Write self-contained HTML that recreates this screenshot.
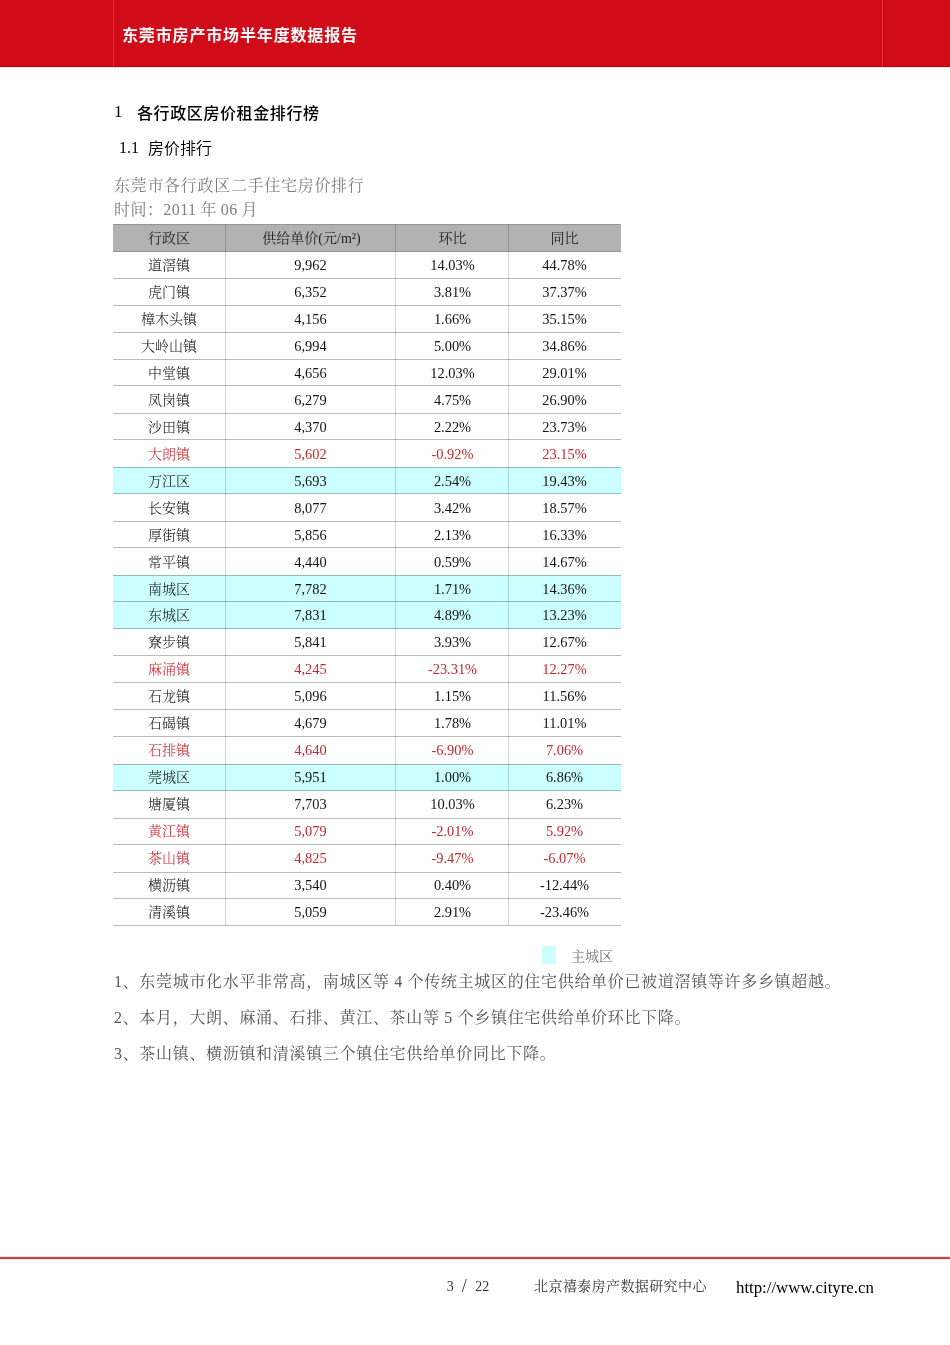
<!DOCTYPE html>
<html lang="zh-CN">
<head>
<meta charset="utf-8">
<title>东莞市房产市场半年度数据报告</title>
<style>
html,body{margin:0;padding:0;background:#fff;}
body{width:950px;height:1345px;position:relative;overflow:hidden;
  font-family:"Liberation Serif","Noto Serif CJK SC",serif;color:#000;}
.hdr{position:absolute;left:0;top:0;width:950px;height:66px;background:#d00c18;border-bottom:1px solid #a90c17;box-shadow:0 1px 0 #fbe2e6,0 2px 0 #fff4f6;}
.vl1{position:absolute;left:113px;top:0;width:1px;height:66px;background:#e2313c;}
.vl2{position:absolute;left:882px;top:0;width:1px;height:66px;background:#e8333f;}
.vl3{position:absolute;left:883px;top:0;width:1px;height:66px;background:#bf0b17;}
.title{position:absolute;left:122px;top:24px;font-family:"Liberation Sans","Noto Sans CJK SC",sans-serif;
  font-weight:bold;font-size:16px;letter-spacing:0.85px;color:#fff;line-height:24px;white-space:nowrap;}
.h1{position:absolute;left:114px;top:101px;font-size:16px;line-height:24px;white-space:nowrap;}
.h1 .n{font-family:"Liberation Serif",serif;font-size:17px;position:relative;top:-1px;}
.h1 .t{position:absolute;left:23px;top:0.5px;font-family:"Liberation Sans","Noto Sans CJK SC",sans-serif;font-weight:500;letter-spacing:0.6px;}
.h2{position:absolute;left:119px;top:136px;font-size:16px;line-height:24px;white-space:nowrap;color:#000;}
.h2 .t{position:absolute;left:29px;top:0.5px;font-family:"Liberation Sans","Noto Sans CJK SC",sans-serif;font-weight:350;}
.cap{position:absolute;left:114px;font-size:16px;line-height:24px;color:#7f7f7f;white-space:nowrap;letter-spacing:0.7px;}
.cap2{letter-spacing:0.45px;word-spacing:-0.6px;}
.thb{position:absolute;left:113px;width:508px;background:#b2b2b2;}
.cy{position:absolute;left:113px;width:508px;background:#ccffff;}
.th,.tc,.tn{position:absolute;height:27px;line-height:27px;text-align:center;white-space:nowrap;}
.th{font-size:14px;color:#222;margin-top:1px;}
.tc{font-size:14px;color:#111;margin-top:1px;font-weight:300;}
.tn{font-size:14.4px;color:#111;margin-top:1px;}
.r{color:#c4262e;}
.hl{position:absolute;left:113px;width:508px;height:1px;background:rgba(0,0,0,0.27);}
.hl.hd{background:rgba(0,0,0,0.16);}
.vl{position:absolute;width:1px;background:rgba(0,0,0,0.17);}
.leg{position:absolute;left:542px;top:946px;width:14px;height:18px;background:#ccffff;}
.legt{position:absolute;left:571px;top:947px;font-size:14px;line-height:20px;color:#777;}
.p{position:absolute;left:114px;font-size:16px;line-height:24px;color:#555;white-space:nowrap;letter-spacing:0.68px;}
.fline{position:absolute;left:0;top:1257px;width:950px;height:2px;background:#bb464e;box-shadow:0 -1px 0 #f6e0e2,0 1px 0 #f6e0e2;}
.ft{position:absolute;top:1277px;font-size:14px;line-height:20px;white-space:nowrap;color:#333;}
.sl{display:inline-block;font-size:18px;margin:0 8.6px 0 8px;position:relative;top:-0.5px;line-height:20px;vertical-align:top;}
.fc{letter-spacing:0.4px;}
.url{position:absolute;left:736px;top:1277px;font-size:16.8px;line-height:22px;color:#000;white-space:nowrap;}
</style>
</head>
<body>
<div class="hdr"></div>
<div class="vl1"></div><div class="vl2"></div><div class="vl3"></div>
<div class="title">东莞市房产市场半年度数据报告</div>

<div class="h1"><span class="n">1</span><span class="t">各行政区房价租金排行榜</span></div>
<div class="h2"><span class="n">1.1</span><span class="t">房价排行</span></div>
<div class="cap" style="top:173.5px">东莞市各行政区二手住宅房价排行</div>
<div class="cap cap2" style="top:197.5px">时间：2011 年 06 月</div>

<div class="thb" style="top:224px;height:28px"></div>
<div class="cy" style="top:467px;height:27px"></div>
<div class="cy" style="top:575px;height:27px"></div>
<div class="cy" style="top:601px;height:28px"></div>
<div class="cy" style="top:764px;height:27px"></div>
<div class="th" style="left:113px;width:112px;top:224px">行政区</div>
<div class="th" style="left:226.5px;width:170px;top:224px">供给单价(元/m²)</div>
<div class="th" style="left:396px;width:113px;top:224px">环比</div>
<div class="th" style="left:508px;width:113px;top:224px">同比</div>
<div class="tc" style="left:113px;width:112px;top:251px">道滘镇</div>
<div class="tn" style="left:225.5px;width:170px;top:251px">9,962</div>
<div class="tn" style="left:396px;width:113px;top:251px">14.03%</div>
<div class="tn" style="left:508px;width:113px;top:251px">44.78%</div>
<div class="tc" style="left:113px;width:112px;top:278px">虎门镇</div>
<div class="tn" style="left:225.5px;width:170px;top:278px">6,352</div>
<div class="tn" style="left:396px;width:113px;top:278px">3.81%</div>
<div class="tn" style="left:508px;width:113px;top:278px">37.37%</div>
<div class="tc" style="left:113px;width:112px;top:305px">樟木头镇</div>
<div class="tn" style="left:225.5px;width:170px;top:305px">4,156</div>
<div class="tn" style="left:396px;width:113px;top:305px">1.66%</div>
<div class="tn" style="left:508px;width:113px;top:305px">35.15%</div>
<div class="tc" style="left:113px;width:112px;top:332px">大岭山镇</div>
<div class="tn" style="left:225.5px;width:170px;top:332px">6,994</div>
<div class="tn" style="left:396px;width:113px;top:332px">5.00%</div>
<div class="tn" style="left:508px;width:113px;top:332px">34.86%</div>
<div class="tc" style="left:113px;width:112px;top:359px">中堂镇</div>
<div class="tn" style="left:225.5px;width:170px;top:359px">4,656</div>
<div class="tn" style="left:396px;width:113px;top:359px">12.03%</div>
<div class="tn" style="left:508px;width:113px;top:359px">29.01%</div>
<div class="tc" style="left:113px;width:112px;top:386px">凤岗镇</div>
<div class="tn" style="left:225.5px;width:170px;top:386px">6,279</div>
<div class="tn" style="left:396px;width:113px;top:386px">4.75%</div>
<div class="tn" style="left:508px;width:113px;top:386px">26.90%</div>
<div class="tc" style="left:113px;width:112px;top:413px">沙田镇</div>
<div class="tn" style="left:225.5px;width:170px;top:413px">4,370</div>
<div class="tn" style="left:396px;width:113px;top:413px">2.22%</div>
<div class="tn" style="left:508px;width:113px;top:413px">23.73%</div>
<div class="tc r" style="left:113px;width:112px;top:440px">大朗镇</div>
<div class="tn r" style="left:225.5px;width:170px;top:440px">5,602</div>
<div class="tn r" style="left:396px;width:113px;top:440px">-0.92%</div>
<div class="tn r" style="left:508px;width:113px;top:440px">23.15%</div>
<div class="tc" style="left:113px;width:112px;top:467px">万江区</div>
<div class="tn" style="left:225.5px;width:170px;top:467px">5,693</div>
<div class="tn" style="left:396px;width:113px;top:467px">2.54%</div>
<div class="tn" style="left:508px;width:113px;top:467px">19.43%</div>
<div class="tc" style="left:113px;width:112px;top:494px">长安镇</div>
<div class="tn" style="left:225.5px;width:170px;top:494px">8,077</div>
<div class="tn" style="left:396px;width:113px;top:494px">3.42%</div>
<div class="tn" style="left:508px;width:113px;top:494px">18.57%</div>
<div class="tc" style="left:113px;width:112px;top:521px">厚街镇</div>
<div class="tn" style="left:225.5px;width:170px;top:521px">5,856</div>
<div class="tn" style="left:396px;width:113px;top:521px">2.13%</div>
<div class="tn" style="left:508px;width:113px;top:521px">16.33%</div>
<div class="tc" style="left:113px;width:112px;top:548px">常平镇</div>
<div class="tn" style="left:225.5px;width:170px;top:548px">4,440</div>
<div class="tn" style="left:396px;width:113px;top:548px">0.59%</div>
<div class="tn" style="left:508px;width:113px;top:548px">14.67%</div>
<div class="tc" style="left:113px;width:112px;top:575px">南城区</div>
<div class="tn" style="left:225.5px;width:170px;top:575px">7,782</div>
<div class="tn" style="left:396px;width:113px;top:575px">1.71%</div>
<div class="tn" style="left:508px;width:113px;top:575px">14.36%</div>
<div class="tc" style="left:113px;width:112px;top:601px">东城区</div>
<div class="tn" style="left:225.5px;width:170px;top:601px">7,831</div>
<div class="tn" style="left:396px;width:113px;top:601px">4.89%</div>
<div class="tn" style="left:508px;width:113px;top:601px">13.23%</div>
<div class="tc" style="left:113px;width:112px;top:628px">寮步镇</div>
<div class="tn" style="left:225.5px;width:170px;top:628px">5,841</div>
<div class="tn" style="left:396px;width:113px;top:628px">3.93%</div>
<div class="tn" style="left:508px;width:113px;top:628px">12.67%</div>
<div class="tc r" style="left:113px;width:112px;top:655px">麻涌镇</div>
<div class="tn r" style="left:225.5px;width:170px;top:655px">4,245</div>
<div class="tn r" style="left:396px;width:113px;top:655px">-23.31%</div>
<div class="tn r" style="left:508px;width:113px;top:655px">12.27%</div>
<div class="tc" style="left:113px;width:112px;top:682px">石龙镇</div>
<div class="tn" style="left:225.5px;width:170px;top:682px">5,096</div>
<div class="tn" style="left:396px;width:113px;top:682px">1.15%</div>
<div class="tn" style="left:508px;width:113px;top:682px">11.56%</div>
<div class="tc" style="left:113px;width:112px;top:709px">石碣镇</div>
<div class="tn" style="left:225.5px;width:170px;top:709px">4,679</div>
<div class="tn" style="left:396px;width:113px;top:709px">1.78%</div>
<div class="tn" style="left:508px;width:113px;top:709px">11.01%</div>
<div class="tc r" style="left:113px;width:112px;top:736px">石排镇</div>
<div class="tn r" style="left:225.5px;width:170px;top:736px">4,640</div>
<div class="tn r" style="left:396px;width:113px;top:736px">-6.90%</div>
<div class="tn r" style="left:508px;width:113px;top:736px">7.06%</div>
<div class="tc" style="left:113px;width:112px;top:763px">莞城区</div>
<div class="tn" style="left:225.5px;width:170px;top:763px">5,951</div>
<div class="tn" style="left:396px;width:113px;top:763px">1.00%</div>
<div class="tn" style="left:508px;width:113px;top:763px">6.86%</div>
<div class="tc" style="left:113px;width:112px;top:790px">塘厦镇</div>
<div class="tn" style="left:225.5px;width:170px;top:790px">7,703</div>
<div class="tn" style="left:396px;width:113px;top:790px">10.03%</div>
<div class="tn" style="left:508px;width:113px;top:790px">6.23%</div>
<div class="tc r" style="left:113px;width:112px;top:817px">黄江镇</div>
<div class="tn r" style="left:225.5px;width:170px;top:817px">5,079</div>
<div class="tn r" style="left:396px;width:113px;top:817px">-2.01%</div>
<div class="tn r" style="left:508px;width:113px;top:817px">5.92%</div>
<div class="tc r" style="left:113px;width:112px;top:844px">茶山镇</div>
<div class="tn r" style="left:225.5px;width:170px;top:844px">4,825</div>
<div class="tn r" style="left:396px;width:113px;top:844px">-9.47%</div>
<div class="tn r" style="left:508px;width:113px;top:844px">-6.07%</div>
<div class="tc" style="left:113px;width:112px;top:871px">横沥镇</div>
<div class="tn" style="left:225.5px;width:170px;top:871px">3,540</div>
<div class="tn" style="left:396px;width:113px;top:871px">0.40%</div>
<div class="tn" style="left:508px;width:113px;top:871px">-12.44%</div>
<div class="tc" style="left:113px;width:112px;top:898px">清溪镇</div>
<div class="tn" style="left:225.5px;width:170px;top:898px">5,059</div>
<div class="tn" style="left:396px;width:113px;top:898px">2.91%</div>
<div class="tn" style="left:508px;width:113px;top:898px">-23.46%</div>
<div class="hl hd" style="top:224px"></div>
<div class="hl hd" style="top:251px"></div>
<div class="hl" style="top:278px"></div>
<div class="hl" style="top:305px"></div>
<div class="hl" style="top:332px"></div>
<div class="hl" style="top:359px"></div>
<div class="hl" style="top:385px"></div>
<div class="hl" style="top:413px"></div>
<div class="hl" style="top:439px"></div>
<div class="hl" style="top:467px"></div>
<div class="hl" style="top:493px"></div>
<div class="hl" style="top:521px"></div>
<div class="hl" style="top:547px"></div>
<div class="hl" style="top:575px"></div>
<div class="hl" style="top:601px"></div>
<div class="hl" style="top:628px"></div>
<div class="hl" style="top:655px"></div>
<div class="hl" style="top:682px"></div>
<div class="hl" style="top:709px"></div>
<div class="hl" style="top:736px"></div>
<div class="hl" style="top:764px"></div>
<div class="hl" style="top:790px"></div>
<div class="hl" style="top:818px"></div>
<div class="hl" style="top:844px"></div>
<div class="hl" style="top:872px"></div>
<div class="hl" style="top:898px"></div>
<div class="hl" style="top:925px"></div>
<div class="vl" style="left:225px;top:224px;height:701px"></div>
<div class="vl" style="left:395px;top:224px;height:701px"></div>
<div class="vl" style="left:508px;top:224px;height:701px"></div>

<div class="leg"></div>
<div class="legt">主城区</div>

<div class="p" style="top:970px">1、东莞城市化水平非常高，南城区等 4 个传统主城区的住宅供给单价已被道滘镇等许多乡镇超越。</div>
<div class="p" style="top:1006px">2、本月，大朗、麻涌、石排、黄江、茶山等 5 个乡镇住宅供给单价环比下降。</div>
<div class="p" style="top:1042px">3、茶山镇、横沥镇和清溪镇三个镇住宅供给单价同比下降。</div>

<div class="fline"></div>
<div class="ft" style="left:446.7px;top:1276.6px">3<span class="sl">/</span>22</div>
<div class="ft fc" style="left:534px">北京禧泰房产数据研究中心</div>
<div class="url">http://www.cityre.cn</div>
</body>
</html>
